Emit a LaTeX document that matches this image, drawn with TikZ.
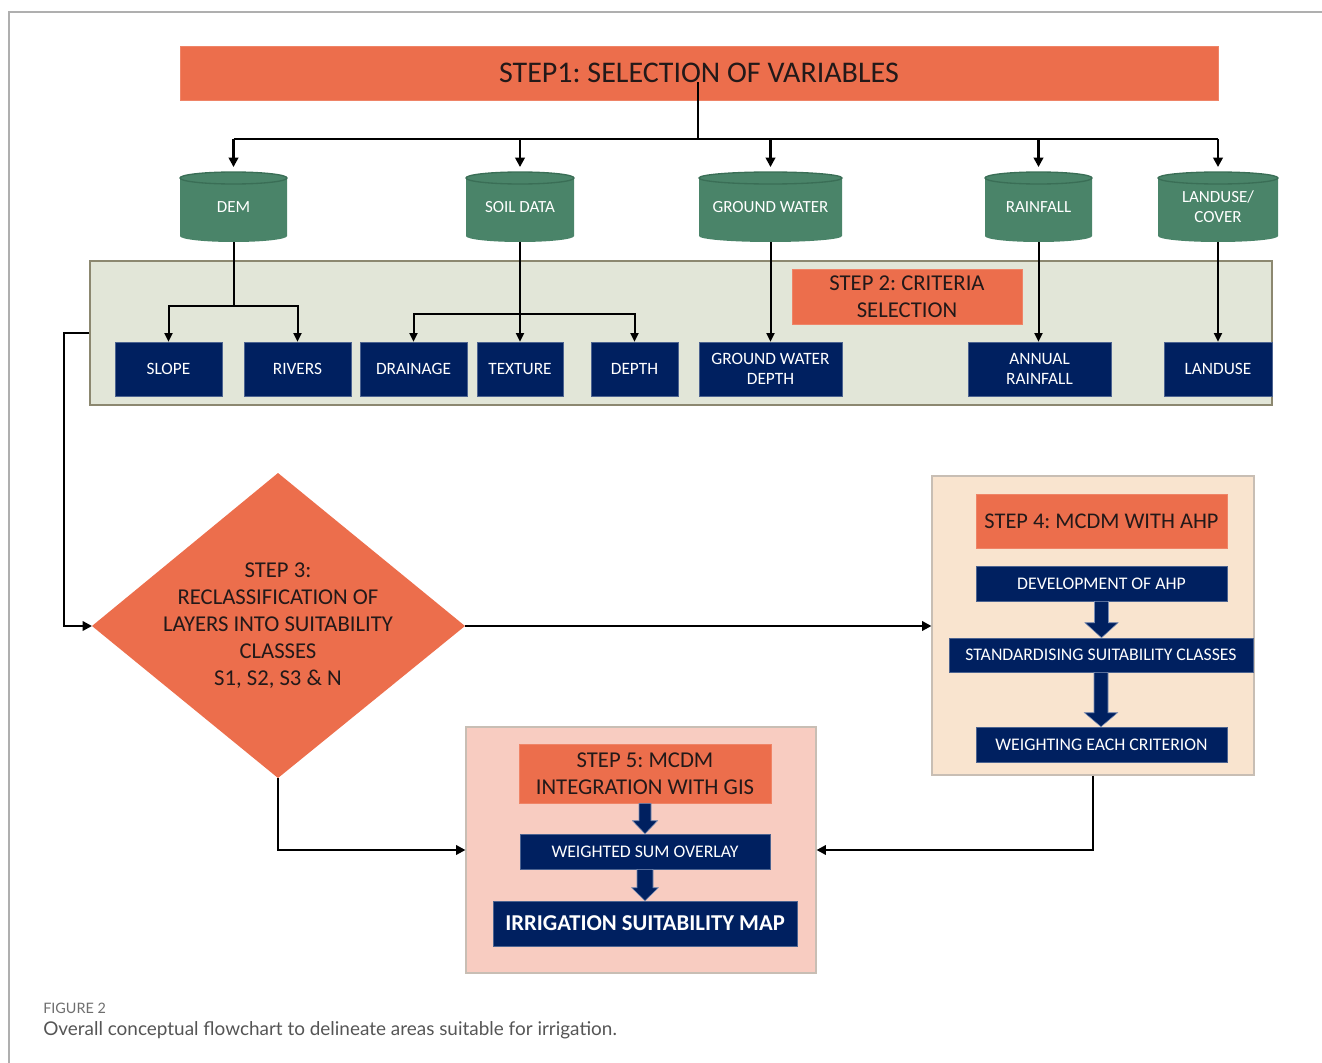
\documentclass[tikz,border=0pt]{standalone}
\usepackage{fontspec}
\setmainfont{Carlito}
\newfontfamily\capfont{Lato}
\frenchspacing
\usetikzlibrary{arrows.meta,calc}
\definecolor{orng}{RGB}{236,110,76}
\definecolor{cylg}{RGB}{74,132,105}
\definecolor{cylgd}{RGB}{58,110,86}
\definecolor{navy}{RGB}{0,32,96}
\definecolor{navyedge}{RGB}{120,140,180}
\definecolor{pnlg}{RGB}{226,230,216}
\definecolor{pnlgb}{RGB}{140,136,112}
\definecolor{pnlp}{RGB}{249,228,207}
\definecolor{pnlr}{RGB}{248,204,193}
\definecolor{pnlb}{RGB}{200,190,180}
\definecolor{txtd}{RGB}{35,25,25}
\definecolor{framec}{RGB}{175,175,175}
\definecolor{capc}{RGB}{85,85,85}
\definecolor{figc}{RGB}{110,110,110}
\newcommand{\bx}[6]{\node[#1, minimum width={(#4-#2)*0.75pt}, minimum height={(#5-#3)*0.75pt}] (#6) at ({(#2+#4)/2},{(#3+#5)/2})}
\newcommand{\cyl}[6]{%
  \fill[cylg] (#1,#2+6) -- (#1,#4-6) arc[start angle=180,end angle=360,x radius={(#3-#1)/2*0.75pt},y radius=4.5pt] -- (#3,#2+6) arc[start angle=0,end angle=180,x radius={(#3-#1)/2*0.75pt},y radius=4.5pt] -- cycle;
  \draw[cylgd, line width=1pt] ({(#1+#3)/2},#2+6) ellipse[x radius={(#3-#1)/2*0.75pt}, y radius=4.5pt];
  \node[cyltext, minimum width={(#3-#1)*0.75pt}, minimum height={(#4-#2)*0.75pt}] (#5) at ({(#1+#3)/2},{(#2+#4)/2}) {#6};}
\newcommand{\barrow}[5]{%
  \filldraw[fill=navy, draw=navyedge, line width=0.4pt] let \p1=(#1.south), \p2=(#2.north) in
    (\x1-#3,\y1) -- (\x1+#3,\y1) -- (\x1+#3,\y2+#5) -- (\x1+#4,\y2+#5) -- (\x1,\y2) -- (\x1-#4,\y2+#5) -- (\x1-#3,\y2+#5) -- cycle;}
\tikzset{
  orangebox/.style={fill=orng, draw=orng!85!white, line width=0.4pt, text=txtd, align=center, inner sep=0pt},
  navybox/.style={fill=navy, draw=navy!70!white, line width=0.4pt, text=white, align=center, inner sep=0pt, font=\fontsize{13}{15}\selectfont},
  cyltext/.style={text=white, align=center, inner sep=0pt, font=\fontsize{12.75}{15}\selectfont},
  line1/.style={line width=2pt, black},
  line2/.style={line width=1.5pt, black},
  line3/.style={line width=1.8pt, black},
  tip1/.style={-{Triangle[length=7pt,width=7pt]}},
  tip2/.style={-{Triangle[length=6.5pt,width=6pt]}},
}
\begin{document}
\begin{tikzpicture}[x=0.75pt,y=-0.75pt]
\useasboundingbox (0,0) rectangle (1322,1063);
% frame
\draw[framec, line width=0.9pt] (1322,12) -- (9,12) -- (9,1063);
% step 1
\bx{orangebox, font=\fontsize{22.5}{27}\selectfont}{180}{46}{1218}{100}{step1} {STEP1: SELECTION OF VARIABLES};
% cylinders
\cyl{180}{172}{287}{242}{dem}{DEM}
\cyl{466}{172}{574}{242}{soil}{SOIL DATA}
\cyl{699}{172}{842}{242}{gw}{GROUND WATER}
\cyl{985}{172}{1092}{242}{rain}{RAINFALL}
\cyl{1158}{172}{1278}{242}{lu}{LANDUSE/\\COVER}
% step 2 panel
\bx{fill=pnlg, draw=pnlgb, line width=1.2pt}{90}{261}{1272}{405}{s2panel} {};
\bx{orangebox, font=\fontsize{17}{20.25}\selectfont}{792}{269}{1022}{324}{s2label} {STEP 2: CRITERIA\\SELECTION};
\bx{navybox}{115}{342}{222}{396}{slope} {SLOPE};
\bx{navybox}{244}{342}{351}{396}{rivers} {RIVERS};
\bx{navybox}{360}{342}{467}{396}{drainage} {DRAINAGE};
\bx{navybox}{477}{342}{563}{396}{texture} {TEXTURE};
\bx{navybox}{591}{342}{678}{396}{depth} {DEPTH};
\bx{navybox}{699}{342}{842}{396}{gwd} {GROUND WATER\\DEPTH};
\bx{navybox}{968}{342}{1111}{396}{annual} {ANNUAL\\RAINFALL};
\bx{navybox}{1164}{342}{1272}{396}{landuse} {LANDUSE};
% step 1 connectors
\coordinate (s1o) at (698,82);
\coordinate (hub) at (698,139);
\draw[line1] (s1o) -- (hub);
\draw[line1] (dem.north |- hub) -- (lu.north |- hub);
\foreach \n in {dem,soil,gw,rain,lu}{
  \draw[line1, tip1, shorten >=3.5pt] (\n.north |- hub) -- (\n.north);
}
% step 2 connectors
\coordinate (demj) at (dem.south |- 0,306);
\draw[line2] (dem.south) -- (demj);
\draw[line2, tip2] (demj) -| (slope.north);
\draw[line2, tip2] (demj) -| (rivers.north);
\coordinate (soilj) at (soil.south |- 0,314);
\draw[line2, tip2] (soil.south) -- (texture.north);
\draw[line2, tip2] (soilj) -| (drainage.north);
\draw[line2, tip2] (soilj) -| (depth.north);
\draw[line2, tip2] (gw.south) -- (gwd.north);
\draw[line2, tip2] (rain.south) -- (rain.south |- annual.north);
\draw[line2, tip2] (lu.south) -- (landuse.north);
% step 3 diamond
\coordinate (s3w) at (92,626);
\coordinate (s3n) at (278,473);
\coordinate (s3e) at (465,626);
\coordinate (s3s) at (278,778);
\fill[orng] (s3w) -- (s3n) -- (s3e) -- (s3s) -- cycle;
\node[text=txtd, align=center, inner sep=0pt, font=\fontsize{17}{20.25}\selectfont] (s3) at (278,626) {STEP 3:\\RECLASSIFICATION OF\\LAYERS INTO SUITABILITY\\CLASSES\\S1, S2, S3 \& N};
% step 4 panel
\bx{fill=pnlp, draw=pnlb, line width=0.8pt}{932}{476}{1254}{775}{s4} {};
\bx{orangebox, font=\fontsize{16.8}{20}\selectfont}{976}{494}{1227}{548}{s4label} {STEP 4: MCDM WITH AHP};
\bx{navybox, font=\fontsize{13.3}{15}\selectfont}{976}{566}{1227}{601}{dev} {DEVELOPMENT OF AHP};
\bx{navybox, font=\fontsize{13.3}{15}\selectfont}{949}{638}{1253}{672}{std} {STANDARDISING SUITABILITY CLASSES};
\bx{navybox, font=\fontsize{13.3}{15}\selectfont}{976}{727}{1227}{762}{wgt} {WEIGHTING EACH CRITERION};
\barrow{dev}{std}{5.25pt}{12.4pt}{11.25pt}
\barrow{std}{wgt}{5.25pt}{12.4pt}{10.5pt}
% step 5 panel
\bx{fill=pnlr, draw=pnlb, line width=0.8pt}{466}{727}{816}{973}{s5} {};
\bx{orangebox, font=\fontsize{17}{20.25}\selectfont}{519}{744}{771}{803}{s5label} {STEP 5: MCDM\\INTEGRATION WITH GIS};
\bx{navybox, font=\fontsize{13.3}{15}\selectfont}{520}{834}{770}{869}{wso} {WEIGHTED SUM OVERLAY};
\bx{navybox, font=\bfseries\fontsize{17}{20}\selectfont}{493}{901}{797}{946}{ism} {IRRIGATION SUITABILITY MAP};
\barrow{s5label}{wso}{4.5pt}{9.4pt}{9.75pt}
\barrow{wso}{ism}{6pt}{10pt}{9.75pt}
% main connectors
\draw[line3, tip1] (s2panel.west |- 0,333) -- (64,333) |- (s3w);
\draw[line3, tip1] (s3e) -- (s4.west |- s3e);
\draw[line3, tip1] (s4.south) |- (s5.east);
\draw[line3, tip1] (s3s) |- (s5.west);
% caption
\node[anchor=west, inner sep=0pt, text=figc, font=\capfont\fontsize{10.8}{12}\selectfont] (fig) at (43,1008) {FIGURE 2};
\node[anchor=west, inner sep=0pt, text=capc, font=\capfont\fontsize{14.2}{16}\selectfont] (cap) at (43,1030) {Overall conceptual flowchart to delineate areas suitable for irrigation.};
\end{tikzpicture}
\end{document}
